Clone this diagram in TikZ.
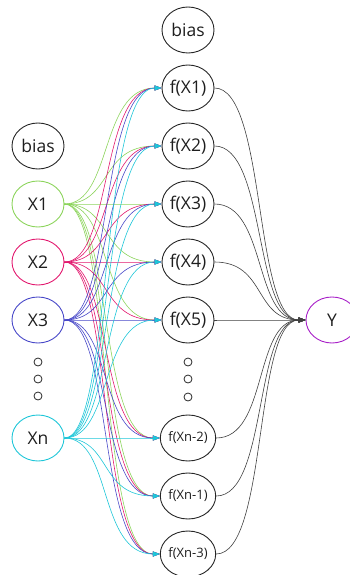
\documentclass[tikz,border=0pt]{standalone}
\usepackage{fontspec}
\setmainfont{Open Sans}
\usetikzlibrary{shapes.geometric,arrows.meta}
\definecolor{cgreen}{RGB}{140,212,92}
\definecolor{cmag}{RGB}{226,24,110}
\definecolor{cblue}{RGB}{72,72,200}
\definecolor{ccyan}{RGB}{30,198,216}
\definecolor{cpurp}{RGB}{168,32,200}
\definecolor{ctext}{RGB}{30,30,30}
\tikzset{
  neuron/.style={ellipse,draw=black!85,line width=0.9pt,minimum width=52pt,minimum height=46pt,inner sep=0pt,text=ctext,font=\fontsize{17.5pt}{20pt}\selectfont},
  smalltext/.style={font=\fontsize{13pt}{15pt}\selectfont},
  dotc/.style={circle,draw=black!85,line width=0.8pt,minimum size=8pt,inner sep=0pt},
  link/.style={line width=0.6pt,-{Triangle[length=7pt,width=5pt]}},
  outlink/.style={line width=0.6pt,draw=black!75,-{Triangle[length=7pt,width=5pt]}}
}
\begin{document}
\begin{tikzpicture}[x=1pt,y=-1pt]
\useasboundingbox (0,0) rectangle (350,575);
% left column
\node[neuron] (biasL) at (38,146) {bias};
\node[neuron,draw=cgreen] (X1) at (38,204) {X1};
\node[neuron,draw=cmag] (X2) at (38,262) {X2};
\node[neuron,draw=cblue] (X3) at (38,320) {X3};
\node[dotc] (dl1) at (38,362) {};
\node[dotc] (dl2) at (38,379) {};
\node[dotc] (dl3) at (38,396) {};
\node[neuron,draw=ccyan] (Xn) at (38,438) {Xn};
% middle column
\node[neuron] (biasM) at (188,30) {bias};
\node[neuron] (f1) at (188,88) {f(X1)};
\node[neuron] (f2) at (188,146) {f(X2)};
\node[neuron] (f3) at (188,204) {f(X3)};
\node[neuron] (f4) at (188,262) {f(X4)};
\node[neuron] (f5) at (188,320) {f(X5)};
\node[dotc] (dm1) at (188,362) {};
\node[dotc] (dm2) at (188,379) {};
\node[dotc] (dm3) at (188,397) {};
\node[neuron,smalltext] (fn2) at (188,438) {f(Xn-2)};
\node[neuron,smalltext] (fn1) at (188,496) {f(Xn-1)};
\node[neuron,smalltext] (fn3) at (188,554) {f(Xn-3)};
% output
\node[neuron,draw=cpurp] (Y) at (332,320) {Y};
% input links
\foreach \src/\col in {X1/cgreen,X2/cmag,X3/cblue,Xn/ccyan}{
  \foreach \dst in {f1,f2,f3,f4,f5,fn2,fn1,fn3}{
    \draw[link,draw=\col] (\src.east) .. controls +(48,0) and +(-62,0) .. (\dst.west);
  }
}
% output links
\foreach \src in {f1,f2,f3,f4,f5,fn2,fn1,fn3}{
  \draw[outlink] (\src.east) .. controls +(52,0) and +(-52,0) .. (Y.west);
}
\end{tikzpicture}
\end{document}
